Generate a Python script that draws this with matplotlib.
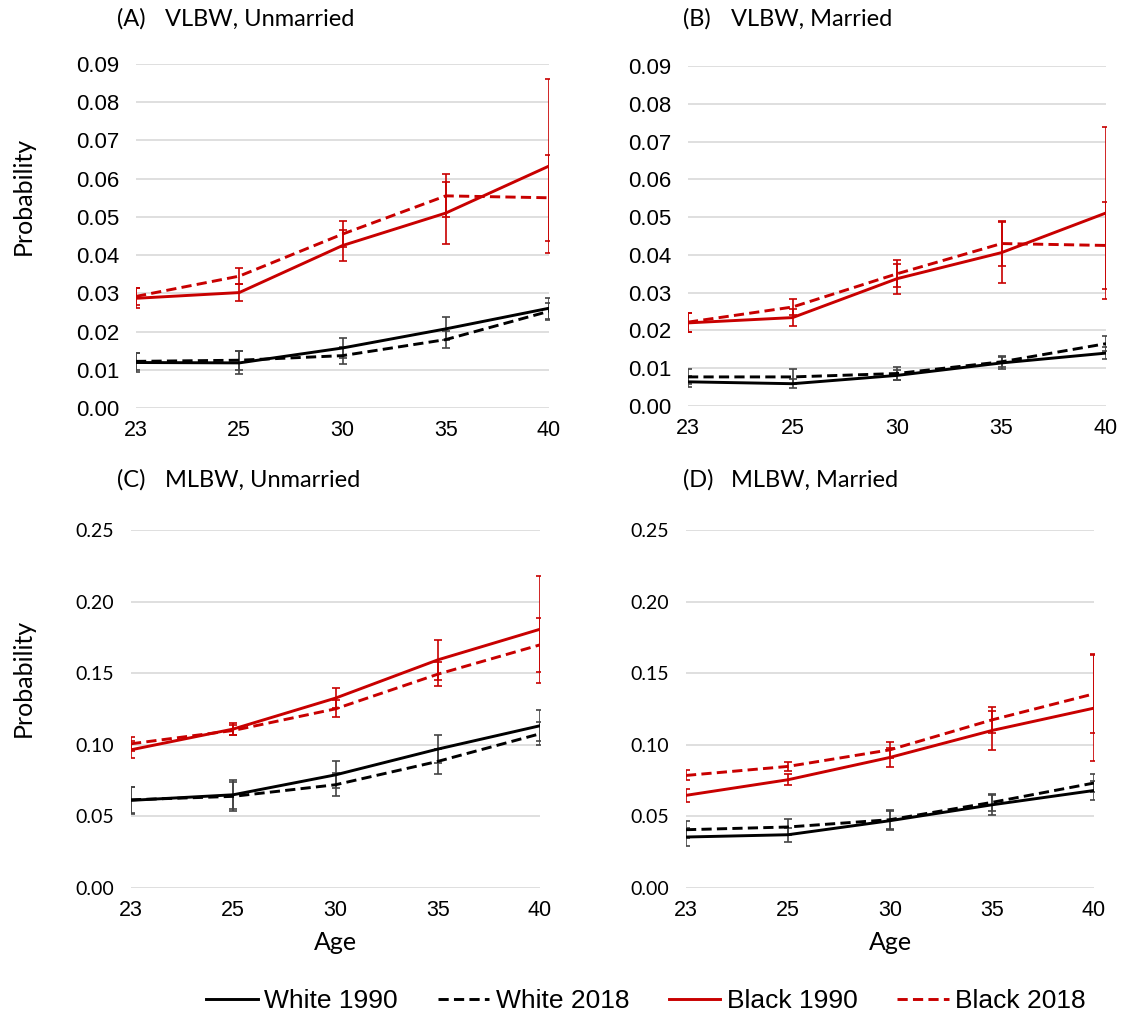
import numpy as np
import matplotlib
matplotlib.use("Agg")
import matplotlib.pyplot as plt
from matplotlib.lines import Line2D

#DATA
ages = ["23", "25", "30", "35", "40"]

# panel A: VLBW, unmarried
a_w90 = [0.0119, 0.0118, 0.0157, 0.0207, 0.0261]
a_w18 = [0.0122, 0.0125, 0.0137, 0.0179, 0.0253]
a_b90 = [0.0287, 0.0302, 0.0425, 0.0510, 0.0633]
a_b18 = [0.0292, 0.0345, 0.0455, 0.0555, 0.0550]
a_w90_err = [0.0025, 0.0030, 0.0025, 0.0030, 0.0027]
a_w18_err = [0.0022, 0.0025, 0.0022, 0.0022, 0.0022]
a_b90_err = [0.0026, 0.0022, 0.0040, 0.0080, 0.0228]
a_b18_err = [0.0022, 0.0020, 0.0035, 0.0056, 0.0113]

# panel B: VLBW, married
b_w90 = [0.0064, 0.0059, 0.0081, 0.0114, 0.0140]
b_w18 = [0.0077, 0.0077, 0.0086, 0.0117, 0.0165]
b_b90 = [0.0220, 0.0234, 0.0337, 0.0406, 0.0511]
b_b18 = [0.0222, 0.0262, 0.0350, 0.0430, 0.0425]
b_w90_err = [0.0015, 0.0012, 0.0013, 0.0016, 0.0015]
b_w18_err = [0.0020, 0.0020, 0.0017, 0.0015, 0.0020]
b_b90_err = [0.0025, 0.0022, 0.0040, 0.0081, 0.0228]
b_b18_err = [0.0025, 0.0022, 0.0036, 0.0060, 0.0115]

# panel C: MLBW, unmarried
c_w90 = [0.0612, 0.0651, 0.0790, 0.0970, 0.1133]
c_w18 = [0.0616, 0.0640, 0.0721, 0.0884, 0.1077]
c_b90 = [0.0965, 0.1110, 0.1326, 0.1593, 0.1807]
c_b18 = [0.1007, 0.1100, 0.1251, 0.1493, 0.1698]
c_w90_err = [0.0095, 0.0100, 0.0095, 0.0100, 0.0108]
c_w18_err = [0.0090, 0.0100, 0.0080, 0.0085, 0.0080]
c_b90_err = [0.0060, 0.0045, 0.0068, 0.0140, 0.0373]
c_b18_err = [0.0050, 0.0035, 0.0060, 0.0085, 0.0190]

# panel D: MLBW, married
d_w90 = [0.0356, 0.0372, 0.0470, 0.0581, 0.0681]
d_w18 = [0.0407, 0.0426, 0.0477, 0.0598, 0.0733]
d_b90 = [0.0647, 0.0756, 0.0912, 0.1100, 0.1256]
d_b18 = [0.0786, 0.0849, 0.0965, 0.1174, 0.1356]
d_w90_err = [0.0060, 0.0050, 0.0065, 0.0070, 0.0065]
d_w18_err = [0.0060, 0.0055, 0.0065, 0.0060, 0.0065]
d_b90_err = [0.0045, 0.0040, 0.0068, 0.0135, 0.0370]
d_b18_err = [0.0035, 0.0030, 0.0058, 0.0093, 0.0275]

panels = [
    ("(A)", "VLBW, Unmarried", a_w90, a_w18, a_b90, a_b18, a_w90_err, a_w18_err, a_b90_err, a_b18_err),
    ("(B)", "VLBW, Married", b_w90, b_w18, b_b90, b_b18, b_w90_err, b_w18_err, b_b90_err, b_b18_err),
    ("(C)", "MLBW, Unmarried", c_w90, c_w18, c_b90, c_b18, c_w90_err, c_w18_err, c_b90_err, c_b18_err),
    ("(D)", "MLBW, Married", d_w90, d_w18, d_b90, d_b18, d_w90_err, d_w18_err, d_b90_err, d_b18_err),
]

RED = "#C80000"
W, H = 1126, 1030
# axes boxes in pixels: left, right, top, bottom
boxes = [(136, 549, 64, 408), (688, 1106, 66, 406), (131, 540, 530, 888), (686, 1094, 530, 888)]
# title anchor (pixels): x of "(A)", y centre
title_pos = [(117, 19), (683, 19), (117, 480), (683, 480)]
DASH = (3.5, 1.8)

fig = plt.figure(figsize=(W / 100, H / 100), dpi=100)
x = np.arange(len(ages))

for i, p in enumerate(panels):
    tag, title, w90, w18, b90, b18, ew90, ew18, eb90, eb18 = p
    l, r, t, b = boxes[i]
    ax = fig.add_axes([l / W, 1 - b / H, (r - l) / W, (b - t) / H])
    series = [(w90, ew90, "black", "-"), (w18, ew18, "black", "--"),
              (b90, eb90, RED, "-"), (b18, eb18, RED, "--")]
    for vals, err, col, ls in series:
        ecol = "#444444" if col == "black" else col
        ax.errorbar(x, vals, yerr=err, color=col, ls=ls, lw=2.1, ecolor=ecol,
                    elinewidth=1.2, capsize=3, capthick=1.2, dashes=DASH if ls == "--" else (None, None))
    top = i < 2
    if top:
        ticks = np.arange(0, 0.0901, 0.01)
        ax.set_ylim(0, 0.09)
        ax.set_yticks(ticks)
        ax.set_yticklabels(["%.2f" % v for v in ticks], fontsize=16, family="Liberation Sans")
    else:
        ticks = np.arange(0, 0.2501, 0.05)
        ax.set_ylim(0, 0.25)
        ax.set_yticks(ticks)
        ax.set_yticklabels(["%.2f" % v for v in ticks], fontsize=14, family="Lato")
    ax.set_xlim(0, 4)
    ax.set_xticks(x)
    ax.set_xticklabels(ages, fontsize=15.5, family="Liberation Sans")
    ax.grid(axis="y", color="#d9d9d9", lw=1.2)
    ax.set_axisbelow(True)
    for s in ax.spines.values():
        s.set_visible(False)
    ax.tick_params(axis="y", length=0, pad=12)
    ax.tick_params(axis="x", length=0, pad=9)
    tx, ty = title_pos[i]
    fig.text(tx / W, 1 - ty / H, tag, fontsize=17, family="Lato", va="center")
    fig.text((tx + 48) / W, 1 - ty / H, title, fontsize=17, family="Lato", va="center")
    if i % 2 == 0:
        fig.text(23 / W, 1 - (196 if top else 678) / H, "Probability", rotation=90,
                 fontsize=18, family="Lato", ha="center", va="center")
    if not top:
        ax.set_xlabel("Age", fontsize=18, family="Lato", labelpad=7)

handles = [Line2D([], [], color="black", lw=2.1),
           Line2D([], [], color="black", lw=2.1, ls="--", dashes=DASH),
           Line2D([], [], color=RED, lw=2.1),
           Line2D([], [], color=RED, lw=2.1, ls="--", dashes=DASH)]
fig.legend(handles, ["White 1990", "White 2018", "Black 1990", "Black 2018"],
           loc="center", bbox_to_anchor=(646 / W, 1 - 1001 / H), ncol=4, frameon=False,
           prop={"family": "Liberation Sans", "size": 19}, handlelength=1.95,
           handletextpad=0.25, columnspacing=1.5)

fig.savefig("out.png", dpi=100)
